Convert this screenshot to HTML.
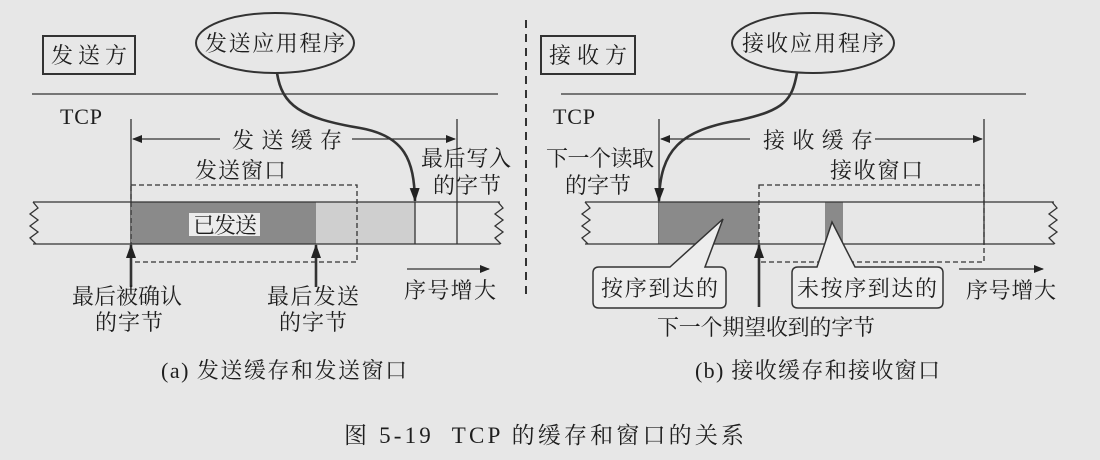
<!DOCTYPE html>
<html><head><meta charset="utf-8"><style>
html,body{margin:0;padding:0;background:#e7e7e7;}
svg{display:block;}
text{font-family:"Liberation Serif","Noto Serif CJK SC","Noto Sans CJK SC",serif;fill:#1e1e1e;}
</style></head><body>
<svg width="1100" height="460" viewBox="0 0 1100 460" xmlns="http://www.w3.org/2000/svg">
<defs>
<marker id="ah" markerWidth="10" markerHeight="10" refX="9" refY="5" orient="auto" markerUnits="userSpaceOnUse">
<path d="M0,1 L10,5 L0,9 z" fill="#222"/></marker>
<marker id="ahb" markerWidth="14" markerHeight="14" refX="13" refY="7" orient="auto" markerUnits="userSpaceOnUse">
<path d="M0,2 L14,7 L0,12 z" fill="#222"/></marker>
</defs>
<rect width="1100" height="460" fill="#e7e7e7"/>
<g stroke="#333" fill="none" stroke-width="1.3">
<rect x="43" y="36" width="92" height="38" stroke-width="2"/>
<ellipse cx="275" cy="43" rx="79" ry="30" stroke-width="2"/>
<line x1="32" y1="94" x2="498" y2="94"/>
<line x1="131" y1="119" x2="131" y2="244"/>
<line x1="457" y1="119" x2="457" y2="244"/>
<line x1="220" y1="139" x2="133" y2="139" marker-end="url(#ah)"/>
<line x1="352" y1="139" x2="455" y2="139" marker-end="url(#ah)"/>
<rect x="131" y="202" width="185" height="42" fill="#8a8a8a" stroke="none"/>
<rect x="316" y="202" width="99" height="42" fill="#cfcfcf" stroke="none"/>
<line x1="33" y1="202" x2="500" y2="202"/>
<line x1="33" y1="244" x2="500" y2="244"/>
<line x1="415" y1="202" x2="415" y2="244"/>
<polyline points="33,202 38,208 30,214 38,220 30,226 38,232 30,238 36,244"/>
<polyline points="498,202 503,208 495,214 503,220 495,226 503,232 495,238 501,244"/>
<rect x="131" y="185" width="226" height="77" stroke-dasharray="5,3"/>
<path d="M277,73 C282,105 300,118 360,128 C405,136 414,160 415,201" stroke-width="2.6" marker-end="url(#ahb)"/>
<line x1="131" y1="287" x2="131" y2="245" stroke-width="2.6" marker-end="url(#ahb)"/>
<line x1="316" y1="287" x2="316" y2="245" stroke-width="2.6" marker-end="url(#ahb)"/>
<line x1="407" y1="269" x2="489" y2="269" marker-end="url(#ah)"/>
<line x1="526" y1="20" x2="526" y2="300" stroke-width="2" stroke-dasharray="8,6"/>
<rect x="541" y="36" width="94" height="38" stroke-width="2"/>
<ellipse cx="813" cy="43" rx="81" ry="30" stroke-width="2"/>
<line x1="561" y1="94" x2="1026" y2="94"/>
<line x1="659" y1="119" x2="659" y2="244"/>
<line x1="984" y1="119" x2="984" y2="244"/>
<line x1="750" y1="139" x2="661" y2="139" marker-end="url(#ah)"/>
<line x1="875" y1="139" x2="982" y2="139" marker-end="url(#ah)"/>
<rect x="659" y="202" width="100" height="42" fill="#8a8a8a" stroke="none"/>
<rect x="825" y="202" width="18" height="42" fill="#8a8a8a" stroke="none"/>
<line x1="585" y1="202" x2="1054" y2="202"/>
<line x1="585" y1="244" x2="1054" y2="244"/>
<polyline points="585,202 590,208 582,214 590,220 582,226 590,232 582,238 588,244"/>
<polyline points="1052,202 1057,208 1049,214 1057,220 1049,226 1057,232 1049,238 1055,244"/>
<rect x="759" y="185" width="225" height="77" stroke-dasharray="5,3"/>
<path d="M797,73 C792,100 785,110 740,120 C680,130 660,150 659,201" stroke-width="2.6" marker-end="url(#ahb)"/>
<line x1="759" y1="307" x2="759" y2="245" stroke-width="2.6" marker-end="url(#ahb)"/>
<line x1="959" y1="269" x2="1043" y2="269" marker-end="url(#ah)"/>
<path d="M670,267 L723,219 L705,267 L720,267 Q726,267 726,273 L726,302 Q726,308 720,308 L599,308 Q593,308 593,302 L593,273 Q593,267 599,267 Z" fill="#ededed" stroke-width="1.5"/>
<path d="M817,267 L832,222 L855,267 L937,267 Q943,267 943,273 L943,302 Q943,308 937,308 L798,308 Q792,308 792,302 L792,273 Q792,267 798,267 Z" fill="#ededed" stroke-width="1.5"/>
</g>
<rect x="189" y="213" width="71" height="23" fill="#ececec"/>
<g font-size="22">
<text x="51" y="63" textLength="76">发送方</text>
<text x="205" y="51" textLength="140">发送应用程序</text>
<text x="60" y="124" font-size="22" textLength="42">TCP</text>
<text x="232" y="148" textLength="110">发送缓存</text>
<text x="195" y="178" textLength="91">发送窗口</text>
<text x="193" y="233" textLength="64">已发送</text>
<text x="421" y="166" textLength="90">最后写入</text>
<text x="433" y="193" textLength="68">的字节</text>
<text x="72" y="304" textLength="110">最后被确认</text>
<text x="95" y="330" textLength="68">的字节</text>
<text x="267" y="304" textLength="92">最后发送</text>
<text x="279" y="330" textLength="68">的字节</text>
<text x="404" y="298" textLength="92">序号增大</text>
<text x="549" y="63" textLength="78">接收方</text>
<text x="742" y="51" textLength="142">接收应用程序</text>
<text x="553" y="124" font-size="22" textLength="42">TCP</text>
<text x="763" y="148" textLength="110">接收缓存</text>
<text x="830" y="178" textLength="93">接收窗口</text>
<text x="546" y="166" textLength="108">下一个读取</text>
<text x="565" y="193" textLength="66">的字节</text>
<text x="601" y="296" textLength="117">按序到达的</text>
<text x="797" y="296" textLength="140">未按序到达的</text>
<text x="966" y="298" textLength="90">序号增大</text>
<text x="657" y="335" textLength="218">下一个期望收到的字节</text>
<text x="161" y="378" textLength="246" font-size="22">(a) 发送缓存和发送窗口</text>
<text x="695" y="378" textLength="245" font-size="22">(b) 接收缓存和接收窗口</text>
<text x="344" y="443" textLength="400" font-size="23" xml:space="preserve">图 5-19  TCP 的缓存和窗口的关系</text>
</g>
</svg>
</body></html>
